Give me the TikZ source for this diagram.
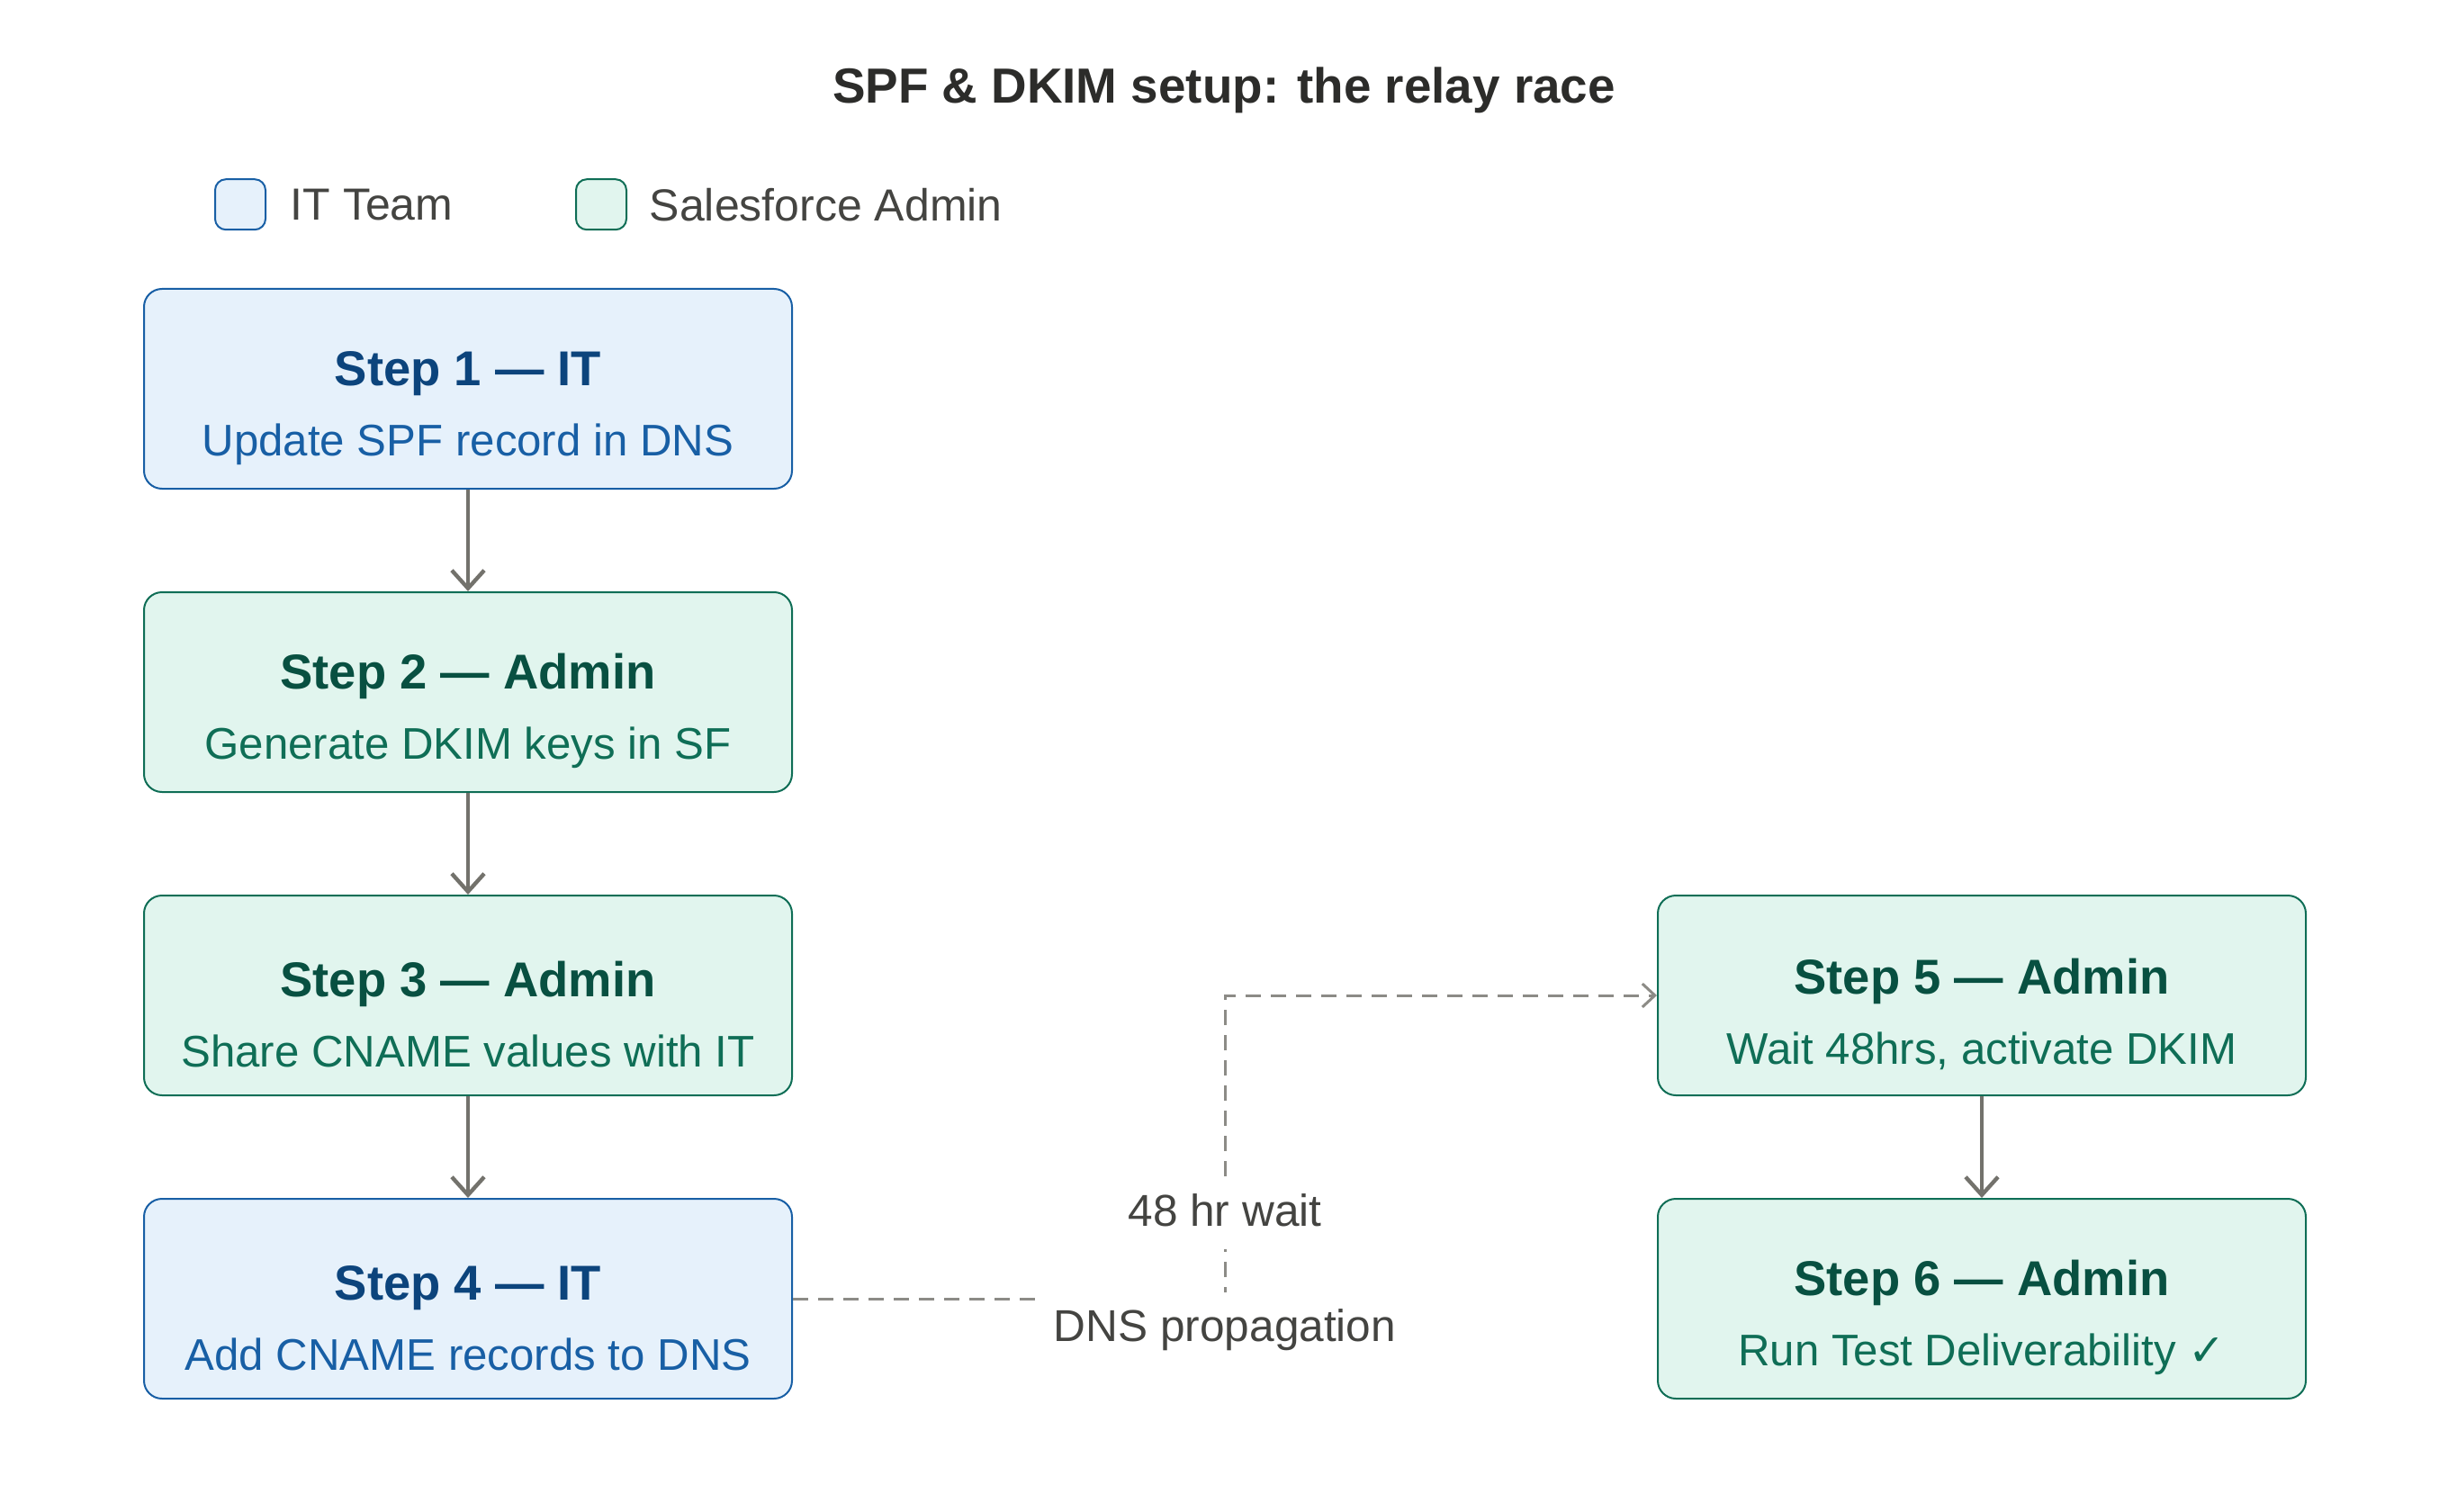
\documentclass[tikz,border=0pt]{standalone}
\usepackage{fontspec}
\setmainfont{Liberation Sans}
\newfontfamily\symfont{DejaVu Sans}
\usepackage{xcolor}
\usepackage{tikz}
\usetikzlibrary{positioning,arrows.meta,calc}
\definecolor{itfill}{HTML}{E6F1FB}
\definecolor{itline}{HTML}{185FA5}
\definecolor{ittext}{HTML}{0C447C}
\definecolor{adfill}{HTML}{E1F5EE}
\definecolor{adline}{HTML}{0F6E56}
\definecolor{adtext}{HTML}{085041}
\definecolor{ink}{HTML}{2C2C2A}
\definecolor{muted}{HTML}{444441}
\definecolor{flowgray}{HTML}{73726C}
\definecolor{waitgray}{HTML}{8C8B86}
\newcommand{\bodysize}{\fontsize{12.3}{15}\selectfont}
\newcommand{\stephead}[2]{{\fontsize{13.6}{16}\selectfont\bfseries\color{#1}\rule{0pt}{20.4pt}#2}}
\tikzset{
  stepbox/.style={
    line width=0.5pt, rounded corners=5pt, inner sep=0pt, align=center,
    minimum width=180pt, minimum height=55.5pt, font=\bodysize},
  itbox/.style={stepbox, draw=itline, fill=itfill, text=itline},
  adminbox/.style={stepbox, draw=adline, fill=adfill, text=adline},
  keybox/.style={line width=0.5pt, rounded corners=3pt, minimum size=14pt, inner sep=0pt},
  keytext/.style={font=\fontsize{12.5}{15}\selectfont, text=muted, inner sep=0pt},
  handoff/.style={draw=flowgray, line width=1.1pt, -{Straight Barb[length=5pt,width=9pt]}},
  waitflow/.style={draw=waitgray, line width=0.75pt, dash pattern=on 4.2pt off 2.8pt,
    -{Straight Barb[length=3.5pt,width=6.5pt]}},
  waitnote/.style={fill=white, font=\fontsize{12.4}{15}\selectfont, text=muted,
    inner xsep=4.75pt, inner ysep=0pt, text height=10pt, text depth=3pt, minimum height=20pt},
}

\begin{document}
\begin{tikzpicture}
  \useasboundingbox (0pt,0pt) rectangle (680pt,-420pt);

  \node[font=\fontsize{13.7}{16}\selectfont\bfseries, text=ink] (title) at (340pt,-25pt)
    {SPF \& DKIM setup: the relay race};

  \node[keybox, draw=itline, fill=itfill] (keyit) at (66.75pt,-56.8pt) {};
  \node[keytext, right=6.5pt of keyit] (keyitlbl) {IT Team};
  \node[keybox, draw=adline, fill=adfill] (keyad) at (167pt,-56.8pt) {};
  \node[keytext, right=6pt of keyad] (keyadlbl) {Salesforce Admin};

  \node[itbox] (s1) at (130pt,-108pt)
    {\stephead{ittext}{Step 1 — IT}\\[4.5pt]Update SPF record in DNS};
  \node[adminbox, below=28.25pt of s1] (s2)
    {\stephead{adtext}{Step 2 — Admin}\\[4.5pt]Generate DKIM keys in SF};
  \node[adminbox, below=28.25pt of s2] (s3)
    {\stephead{adtext}{Step 3 — Admin}\\[4.5pt]Share CNAME values with IT};
  \node[itbox, below=28.25pt of s3] (s4)
    {\stephead{ittext}{Step 4 — IT}\\[4.5pt]Add CNAME records to DNS};

  \node[adminbox, right=240pt of s3] (s5)
    {\stephead{adtext}{Step 5 — Admin}\\[4.5pt]Wait 48hrs, activate DKIM};
  \node[adminbox, below=28.25pt of s5] (s6)
    {\stephead{adtext}{Step 6 — Admin}\\[4.5pt]Run Test Deliverability {\symfont ✓}};

  \draw[handoff] (s1) -- (s2);
  \draw[handoff] (s2) -- (s3);
  \draw[handoff] (s3) -- (s4);
  \draw[handoff] (s5) -- (s6);

  \draw[waitflow] (s4.east) -- ($(s4.east)!0.5!(s4.east -| s5.west)$) coordinate (bend)
    |- (s5.west);
  \node[waitnote] (waitlbl) at ([yshift=23.75pt]bend) {48 hr wait};
  \node[waitnote] (dnslbl) at ([yshift=-8.25pt]bend) {DNS propagation};

\end{tikzpicture}
\end{document}
